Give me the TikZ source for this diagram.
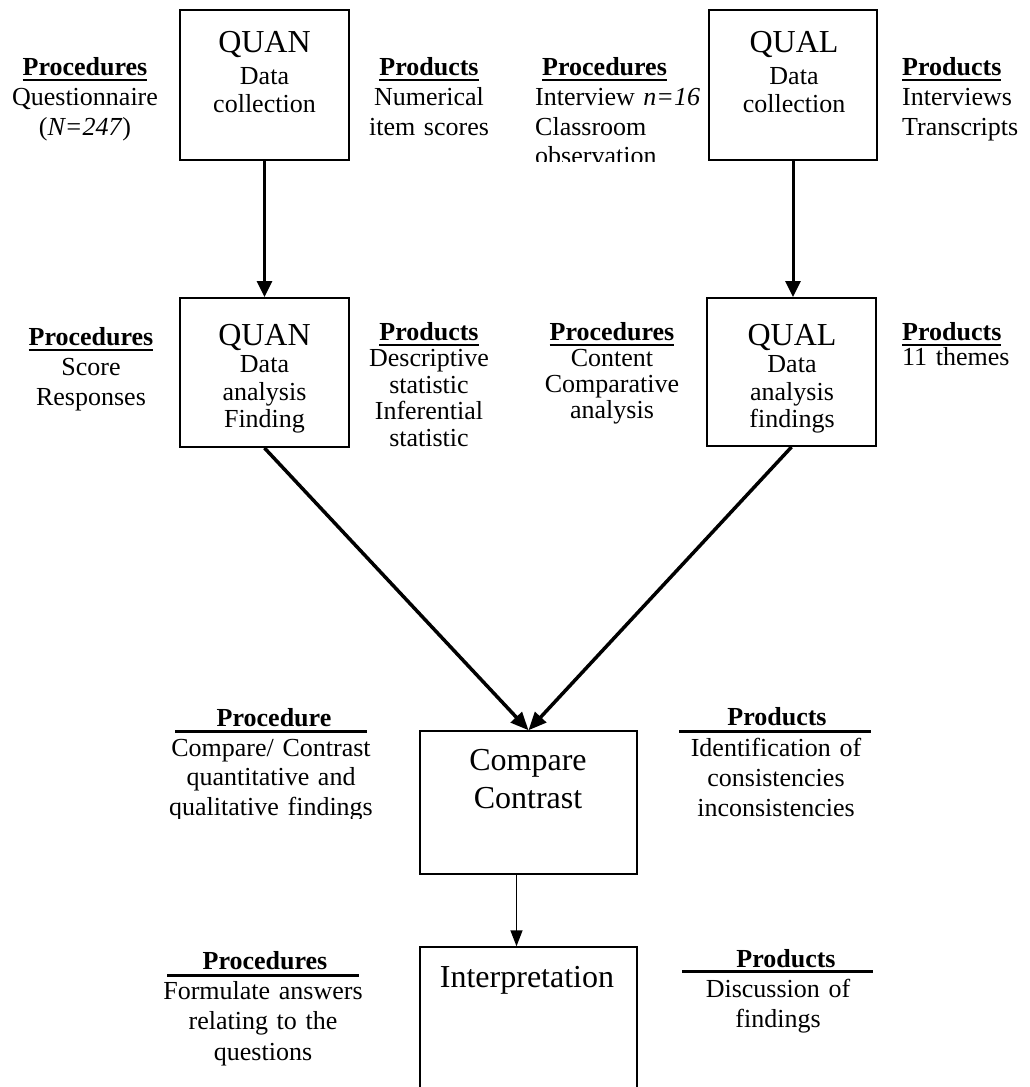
\documentclass[tikz,border=0pt]{standalone}
\usepackage{fontspec}
\setmainfont{Liberation Serif}
\usetikzlibrary{arrows.meta}

\newcommand{\ulhead}[1]{\setbox0\hbox{\textbf{#1}}\rlap{\rule[-6pt]{\wd0}{2.5pt}}\box0}

\tikzset{
  stagebox/.style={draw, line width=2pt, inner sep=0pt, minimum width=169pt, minimum height=150pt},
  boxtext/.style={anchor=base, inner sep=0pt, text width=240pt, align=center, font=\fontsize{26}{27.5}\selectfont},
  note/.style={anchor=base, inner sep=0pt, text width=240pt, align=center, font=\fontsize{26}{29}\selectfont},
  bignote/.style={font=\fontsize{32}{38}\selectfont}
}

\begin{document}
\begin{tikzpicture}[x=1pt, y=-1pt, >={Triangle[length=16pt,width=15pt]}]

  \path[use as bounding box, clip] (0,0) rectangle (1030,1087);

%%%%%%%%%%%%%%%%%%%%%%%%%%%%%%%%%%%%%%%%%%
  % Boxes
  \node[stagebox] (quancol) at (264.5,85) {};
  \node[stagebox, minimum width=168pt] (qualcol) at (793,85) {};
  \node[stagebox, minimum height=149pt] (quanana) at (264.5,372.5) {};
  \node[stagebox, minimum height=148pt] (qualana) at (791.5,372) {};
  \node[stagebox, line width=1.5pt, minimum width=217pt, minimum height=143pt] (compare) at (528.5,802.5) {};
  \node[stagebox, line width=1.5pt, minimum width=217pt, minimum height=190pt] (interp) at (528.5,1042) {};

  % Box texts
  \node[boxtext] (quancol-t) at (264.5,52) {{\fontsize{32}{28}\selectfont QUAN}\\[5pt]Data\\collection};
  \node[boxtext] (qualcol-t) at (794,52) {{\fontsize{32}{28}\selectfont QUAL}\\[5pt]Data\\collection};
  \node[boxtext] (quanana-t) at (264.5,345) {{\fontsize{32}{28}\selectfont QUAN}\\Data\\analysis\\Finding};
  \node[boxtext] (qualana-t) at (792,345) {{\fontsize{32}{28}\selectfont QUAL}\\Data\\analysis\\findings};
  \node[boxtext, bignote] (compare-t) at (528,770) {Compare\\Contrast};
  \node[boxtext, bignote] (interp-t) at (527,987) {Interpretation};

  % Arrows
  \draw[->, line width=3pt] (quancol) -- (quanana);
  \draw[->, line width=3pt] (qualcol.south) -- (qualcol.south |- qualana.north);
  \draw[-{Triangle[length=18pt,width=15pt]}, line width=3.5pt] (quanana.south) -- (compare.north);
  \draw[-{Triangle[length=18pt,width=15pt]}, line width=3.5pt] (qualana.south) -- (compare.north);
  \draw[-{Triangle[length=16pt,width=12pt]}, line width=1.5pt]
    ([xshift=-12pt]compare.south) -- ([xshift=-12pt]interp.north);

%%%%%%%%%%%%%%%%%%%%%%%%%%%%%%%%%%%%%%%%%%
  % Data collection
  \node[note, font=\fontsize{26}{29.5}\selectfont] (quancol-proc) at (85,75) {\ulhead{Procedures}\\[1pt]Questionnaire\\(\textit{N=247})};
  \node[note, font=\fontsize{26}{29.5}\selectfont] (quancol-prod) at (429,75) {\ulhead{Products}\\[1pt]Numerical\\item scores};
  \begin{scope}
    \clip (500,0) rectangle (705,161);
    \node[note, anchor=base west, align=left, font=\fontsize{26}{29.5}\selectfont] (qualcol-proc) at (535,75)
      {\hspace*{7pt}\ulhead{Procedures}\\[1pt]Interview \textit{n=16}\\Classroom\\observation};
  \end{scope}
  \node[note, anchor=base west, align=left, font=\fontsize{26}{29.5}\selectfont] (qualcol-prod) at (902,75)
    {\ulhead{Products}\\[1pt]Interviews\\Transcripts};

  % Data analysis
  \node[note, font=\fontsize{26}{30}\selectfont] (quanana-proc) at (91,345) {\ulhead{Procedures}\\Score\\Responses};
  \begin{scope}
    \clip (360,300) rectangle (500,447);
    \node[note, font=\fontsize{26}{26.6}\selectfont] (quanana-prod) at (429,340)
      {\ulhead{Products}\\Descriptive\\statistic\\Inferential\\statistic};
  \end{scope}
  \node[note, font=\fontsize{26}{26}\selectfont] (qualana-proc) at (612,340) {\ulhead{Procedures}\\Content\\Comparative\\analysis};
  \node[note, anchor=base west, align=left, font=\fontsize{26}{25}\selectfont] (qualana-prod) at (902,340) {\ulhead{Products}\\11 themes};

%%%%%%%%%%%%%%%%%%%%%%%%%%%%%%%%%%%%%%%%%%
  % Compare / contrast
  \node[note] (compare-proc) at (274,726) {\textbf{Procedure}};
  \draw[line width=3pt] (175,731) -- (367,731);
  \begin{scope}
    \clip (100,735) rectangle (415,818);
    \node[note, font=\fontsize{26}{29.5}\selectfont] (compare-proc-t) at (271,756)
      {Compare/ Contrast\\quantitative and\\qualitative findings};
  \end{scope}
  \node[note] (compare-prod) at (777,725) {\textbf{Products}};
  \draw[line width=3pt] (679,731) -- (871,731);
  \node[note, font=\fontsize{26}{30}\selectfont] (compare-prod-t) at (776,756)
    {Identification of\\consistencies\\inconsistencies};

  % Interpretation
  \node[note] (interp-proc) at (265,969) {\textbf{Procedures}};
  \draw[line width=3pt] (167,975) -- (359,975);
  \node[note, font=\fontsize{26}{30.5}\selectfont] (interp-proc-t) at (263,999)
    {Formulate answers\\relating to the\\questions};
  \node[note] (interp-prod) at (786,967) {\textbf{Products}};
  \draw[line width=3pt] (682,971) -- (873,971);
  \node[note, font=\fontsize{26}{30}\selectfont] (interp-prod-t) at (778,997) {Discussion of\\findings};

\end{tikzpicture}
\end{document}
